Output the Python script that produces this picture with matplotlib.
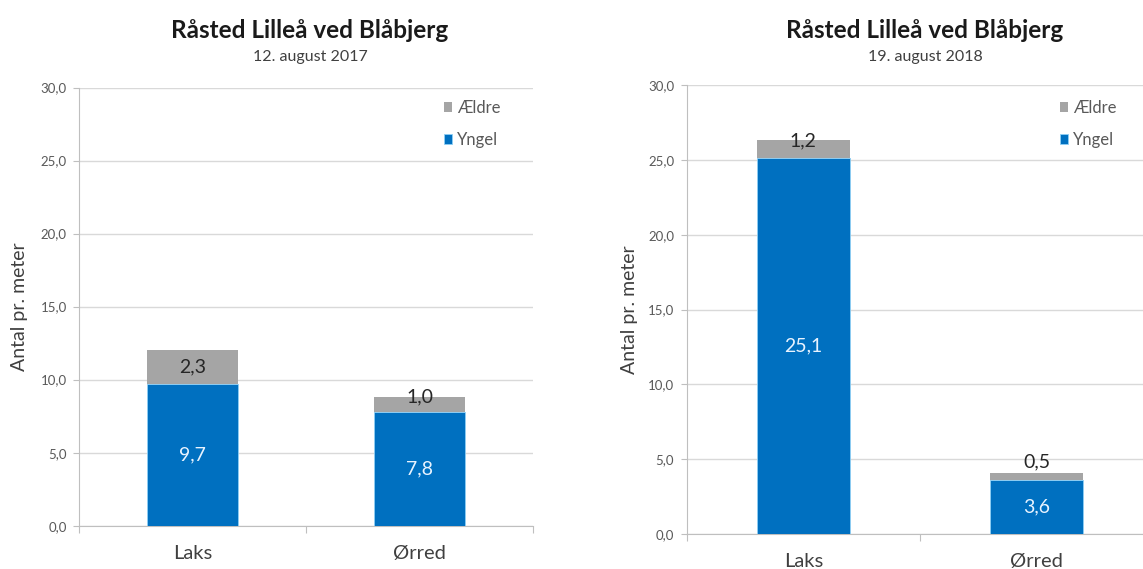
import numpy as np
import matplotlib
matplotlib.use("Agg")
import matplotlib.pyplot as plt
from matplotlib.ticker import FuncFormatter, FixedLocator

plt.rcParams['font.family'] = ['Lato', 'DejaVu Sans']

# data
categories = ["Laks", "Ørred"]
yngel_2017 = [9.7, 7.8]
aeldre_2017 = [2.3, 1.0]
yngel_2018 = [25.1, 3.6]
aeldre_2018 = [1.2, 0.5]
titles = ["Råsted Lilleå ved Blåbjerg", "Råsted Lilleå ved Blåbjerg"]
subtitles = ["12. august 2017", "19. august 2018"]
yticks = [0, 5, 10, 15, 20, 25, 30]

BLUE = "#0070C0"
GREY = "#A5A5A5"
GRID = "#D9D9D9"
TXT = "#595959"


def fmt(v):
    return f"{v:.1f}".replace(".", ",")


def draw_panel(ax, yngel, aeldre, label_x):
    x = np.arange(len(categories))
    yngel = np.array(yngel)
    aeldre = np.array(aeldre)
    b1 = ax.bar(x, yngel, width=0.4, color=BLUE, edgecolor="#8fd0f5", linewidth=0.6,
                label="Yngel", zorder=3)
    b2 = ax.bar(x, aeldre, width=0.4, bottom=yngel, color=GREY, label="Ældre", zorder=3)

    for xi, v in zip(x, yngel):
        ax.text(xi, v / 2, fmt(v), ha="center", va="center", color="#e8f3ff",
                fontsize=14, zorder=4)
    for xi, b, v in zip(x, yngel, aeldre):
        top = b + v
        if v >= 2:
            ax.text(xi, b + v / 2, fmt(v), ha="center", va="center", color="#262626",
                    fontsize=14, zorder=4)
        else:
            # small segment: label sits on top of the bar
            off = 0 if v >= 1 else 8
            ax.annotate(fmt(v), (xi, top), xytext=(0, off), textcoords="offset points",
                        ha="center", va="center", color="#262626", fontsize=14, zorder=4)

    ax.set_xlim(-0.5, len(categories) - 0.5)
    ax.set_ylim(0, 30)
    ax.yaxis.set_major_locator(FixedLocator(yticks))
    ax.yaxis.set_major_formatter(FuncFormatter(lambda v, p: fmt(v)))
    ax.set_xticks(x)
    ax.set_xticklabels(categories, fontsize=14.5, color="#404040")
    ax.set_xticks(np.arange(len(categories) + 1) - 0.5, minor=True)
    ax.tick_params(axis="x", which="major", length=0, pad=14)
    ax.tick_params(axis="x", which="minor", length=5, color="#BFBFBF", width=0.8)
    ax.tick_params(axis="y", length=4, color="#BFBFBF", width=0.8, labelsize=9.5,
                   labelcolor=TXT, pad=5)
    ax.grid(axis="y", color=GRID, linewidth=1.0, zorder=0)
    for s in ["top", "right"]:
        ax.spines[s].set_visible(False)
    for s in ["left", "bottom"]:
        ax.spines[s].set_color("#BFBFBF")
        ax.spines[s].set_linewidth(0.8)
    ax.set_ylabel("Antal pr. meter", fontsize=14, color="#404040")
    ax.yaxis.set_label_coords(label_x, 0.5)
    return b1, b2


fig = plt.figure(figsize=(11.43, 5.69), dpi=100)
ax1 = fig.add_axes([0.0694, 0.0761, 0.3972, 0.7701])
ax2 = fig.add_axes([0.6008, 0.0615, 0.4082, 0.7891])

h1 = draw_panel(ax1, yngel_2017, aeldre_2017, -0.112)
h2 = draw_panel(ax2, yngel_2018, aeldre_2018, -0.104)

title_x = [310 / 1143, 925 / 1143]
for i, (t, s) in enumerate(zip(titles, subtitles)):
    fig.text(title_x[i], 1 - 30 / 569, t, ha="center", va="center", fontsize=17.5,
             fontweight="bold", color="#1a1a1a")
    fig.text(title_x[i], 1 - 57 / 569, s, ha="center", va="center", fontsize=11.5,
             color="#404040")

leg_pos = [(444 / 1143, 1 - 100 / 569), (1060 / 1143, 1 - 100 / 569)]
for ax, h, pos in [(ax1, h1, leg_pos[0]), (ax2, h2, leg_pos[1])]:
    leg = ax.legend([h[1], h[0]], ["Ældre", "Yngel"], loc="upper left",
                    bbox_to_anchor=pos, bbox_transform=fig.transFigure, frameon=False,
                    handlelength=0.5, handleheight=0.5, handletextpad=0.3,
                    labelspacing=0.95, fontsize=12, borderpad=0, borderaxespad=0)
    for t in leg.get_texts():
        t.set_color(TXT)

fig.savefig("out.png", dpi=100)
